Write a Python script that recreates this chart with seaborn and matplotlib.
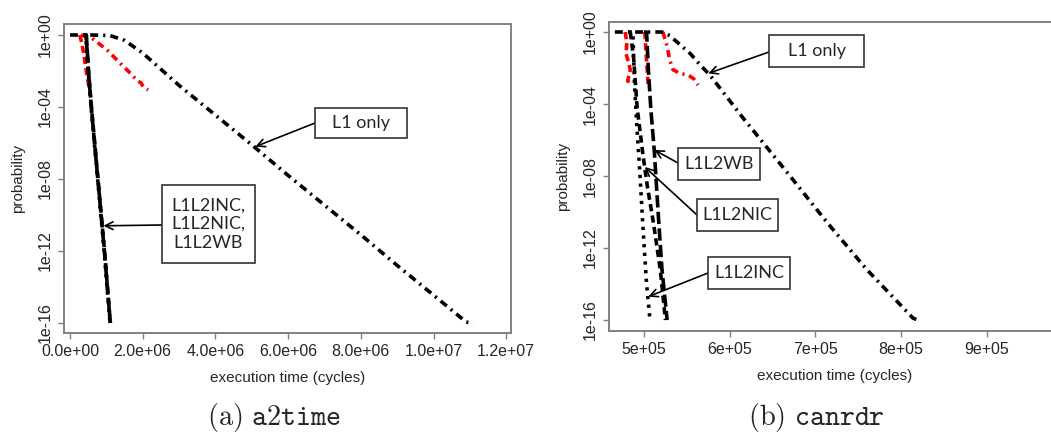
import numpy as np
import pandas as pd
import matplotlib
matplotlib.use("Agg")
import matplotlib.pyplot as plt
from matplotlib.patches import Rectangle
import seaborn as sns

# ---------------- data (a) a2time ----------------
a_l1_x = [0.0e6, 0.6e6, 1.1e6, 1.5e6, 2.0e6, 2.5e6, 3.0e6, 4.0e6, 5.0e6, 6.0e6,
          7.0e6, 8.0e6, 9.0e6, 10.0e6, 10.9e6, 11.1e6]
a_l1_logp = [0, 0, -0.03, -0.3, -1.0, -1.9, -2.8, -4.45, -6.1, -7.8,
             -9.45, -11.1, -12.8, -14.45, -15.95, -16.0]
a_inc_x = [0.36e6, 0.43e6, 0.50e6, 0.58e6, 0.67e6, 0.76e6, 0.85e6, 0.94e6, 1.02e6, 1.10e6]
a_inc_logp = [0, 0, -2, -4, -6, -8, -10, -12, -14, -16]
a_nic_x = [0.38e6, 0.44e6, 0.51e6, 0.59e6, 0.68e6, 0.77e6, 0.86e6, 0.95e6, 1.03e6, 1.11e6]
a_nic_logp = [0, 0, -2, -4, -6, -8, -10, -12, -14, -16]
a_wb_x = [0.40e6, 0.45e6, 0.51e6, 0.59e6, 0.68e6, 0.77e6, 0.86e6, 0.95e6, 1.03e6, 1.11e6]
a_wb_logp = [0, 0, -2.1, -4.1, -6.1, -8.1, -10.1, -12.1, -14.1, -16]
a_red1_x = [0.27e6, 0.33e6, 0.39e6, 0.44e6, 0.48e6, 0.52e6]
a_red1_logp = [0, -0.5, -1.2, -1.9, -2.4, -2.85]
a_red2_x = [0.30e6, 0.60e6, 1.02e6, 1.38e6, 1.70e6, 1.85e6, 1.95e6, 2.02e6, 2.15e6]
a_red2_logp = [0, -0.17, -0.83, -1.57, -2.2, -2.55, -2.65, -2.9, -3.05]

a_xticks = [0.0, 2.0e6, 4.0e6, 6.0e6, 8.0e6, 1.0e7, 1.2e7]
a_xticklabels = ["0.0e+00", "2.0e+06", "4.0e+06", "6.0e+06", "8.0e+06", "1.0e+07", "1.2e+07"]

# ---------------- data (b) canrdr ----------------
b_l1_x = [4.66e5, 5.0e5, 5.21e5, 5.30e5, 5.42e5, 5.54e5, 5.65e5, 5.77e5, 6.16e5,
          6.67e5, 7.14e5, 7.60e5, 8.14e5, 8.20e5]
b_l1_logp = [0, 0, 0, -0.2, -0.7, -1.2, -1.8, -2.4, -4.8, -7.8, -10.6, -13.2, -15.9, -16.0]
b_inc_x = [4.82e5, 4.87e5, 4.89e5, 4.92e5, 4.95e5, 4.99e5, 5.03e5, 5.07e5]
b_inc_logp = [0, 0, -3.0, -5.5, -7.7, -11.0, -14.0, -16.0]
b_nic_x = [4.84e5, 4.88e5, 4.92e5, 4.99e5, 5.04e5, 5.11e5, 5.19e5, 5.25e5]
b_nic_logp = [0, -1.5, -4.2, -6.9, -8.6, -10.6, -13.2, -16.0]
b_wb_x = [5.0e5, 5.03e5, 5.05e5, 5.08e5, 5.12e5, 5.17e5, 5.21e5, 5.27e5]
b_wb_logp = [0, 0, -2.0, -4.3, -6.6, -10.4, -13.2, -16.0]
b_red1_x = [4.78e5, 4.80e5, 4.79e5, 4.82e5, 4.84e5, 4.81e5, 4.84e5]
b_red1_logp = [0, -0.6, -1.2, -1.7, -2.1, -2.7, -3.0]
b_red2_x = [5.01e5, 5.02e5, 5.03e5, 5.04e5, 5.05e5]
b_red2_logp = [0, -0.8, -1.6, -2.3, -3.0]
b_red3_x = [5.22e5, 5.27e5, 5.30e5, 5.34e5, 5.42e5, 5.52e5, 5.58e5, 5.63e5]
b_red3_logp = [0, -0.8, -1.55, -2.1, -2.3, -2.4, -2.6, -2.95]

b_xticks = [5e5, 6e5, 7e5, 8e5, 9e5]
b_xticklabels = ["5e+05", "6e+05", "7e+05", "8e+05", "9e+05"]

yticks = [1e0, 1e-4, 1e-8, 1e-12, 1e-16]
yticklabels = ["1e+00", "1e-04", "1e-08", "1e-12", "1e-16"]

# ---------------- styling ----------------
sns.set_theme(style="white")
plt.rcParams["font.family"] = ["Liberation Sans", "DejaVu Sans"]
plt.rcParams["mathtext.fontset"] = "cm"

W, H = 1051, 434
fig = plt.figure(figsize=(W / 100, H / 100), dpi=100)

def fx(x):
    return x / W

def fy(y):
    return 1 - y / H

GRAY = "#808080"
LW = 2.6
ST_L1 = (0, (2.2, 1.4, 0.6, 1.4))
ST_INC = (0, (0.9, 1.5))
ST_NIC = (0, (2.0, 1.2))
ST_WB = (0, (3.4, 1.2))
ST_RED_A = (0, (2.0, 1.1))
ST_RED_B = (0, (2.0, 1.3, 0.6, 1.3))
TICK_FS = 11.5
LABEL_FS = 11


def draw(ax, x, logp, color, ls):
    df = pd.DataFrame({"x": x, "p": 10.0 ** np.asarray(logp, dtype=float)})
    sns.lineplot(data=df, x="x", y="p", ax=ax, color=color, linestyle=ls,
                 linewidth=LW, estimator=None, sort=False, legend=False)


def style_axes(ax, xlim, ylim, xticks, xticklabels):
    ax.set_yscale("log")
    ax.set_xlim(*xlim)
    ax.set_ylim(*ylim)
    ax.set_xticks(xticks)
    ax.set_xticklabels(xticklabels, fontsize=TICK_FS)
    ax.set_yticks(yticks)
    ax.set_yticklabels(yticklabels, fontsize=TICK_FS, rotation=90, va="center")
    ax.minorticks_off()
    for s in ax.spines.values():
        s.set_color(GRAY)
        s.set_linewidth(1.4)
    ax.tick_params(axis="both", which="major", direction="out", length=4,
                   width=1.0, color=GRAY, bottom=True, left=True, pad=4)
    ax.set_xlabel("execution time (cycles)", fontsize=LABEL_FS)
    ax.set_ylabel("probability", fontsize=LABEL_FS)
    ax.grid(False)


# ---- panel (a) ----
axA = fig.add_axes([fx(64), fy(333), (511 - 64) / W, (333 - 24) / H])
draw(axA, a_red1_x, a_red1_logp, "red", ST_RED_A)
draw(axA, a_red2_x, a_red2_logp, "red", ST_RED_B)
draw(axA, a_l1_x, a_l1_logp, "black", ST_L1)
draw(axA, a_inc_x, a_inc_logp, "black", ST_INC)
draw(axA, a_nic_x, a_nic_logp, "black", ST_NIC)
draw(axA, a_wb_x, a_wb_logp, "black", ST_WB)
style_axes(axA, (-1.65e5, 1.2132e7), (10 ** -16.556, 10 ** 0.611), a_xticks, a_xticklabels)
axA.xaxis.set_label_coords(0.5, -0.122)
axA.yaxis.set_label_coords(-0.087, 0.5)

# ---- panel (b) ----
axB = fig.add_axes([fx(609), fy(331), (1100 - 609) / W, (331 - 22) / H])
draw(axB, b_red1_x, b_red1_logp, "red", ST_RED_A)
draw(axB, b_red2_x, b_red2_logp, "red", ST_RED_A)
draw(axB, b_red3_x, b_red3_logp, "red", ST_RED_B)
draw(axB, b_l1_x, b_l1_logp, "black", ST_L1)
draw(axB, b_inc_x, b_inc_logp, "black", ST_INC)
draw(axB, b_nic_x, b_nic_logp, "black", ST_NIC)
draw(axB, b_wb_x, b_wb_logp, "black", ST_WB)
style_axes(axB, (4.5916e5, 1.03209e6), (10 ** -16.61, 10 ** 0.556), b_xticks, b_xticklabels)
axB.xaxis.set_label_coords(0.46, -0.122)
axB.yaxis.set_label_coords(-0.079, 0.5)

# ---- annotation boxes ----
BOX_FONT = ["Lato", "DejaVu Sans"]


def label_box(ax, text, box, arrow_from, tip):
    x0, y0, x1, y1 = box
    fig.add_artist(Rectangle((fx(x0), fy(y1)), (x1 - x0) / W, (y1 - y0) / H,
                             transform=fig.transFigure, facecolor="white",
                             edgecolor="#333333", linewidth=1.2, zorder=5))
    fig.text(fx((x0 + x1) / 2), fy((y0 + y1) / 2), text, ha="center", va="center",
             fontsize=13, family=BOX_FONT, linespacing=1.2, zorder=6)
    ax.annotate("", xy=tip, xycoords="data",
                xytext=(fx(arrow_from[0]), fy(arrow_from[1])), textcoords="figure fraction",
                arrowprops=dict(arrowstyle="->", lw=1.2, color="black",
                                mutation_scale=14, shrinkA=0, shrinkB=0),
                zorder=6, annotation_clip=False)


label_box(axA, "L1 only", (315, 108, 407, 138), (315, 123), (5.1e6, 10 ** -6.2))
label_box(axA, "L1L2INC,\nL1L2NIC,\nL1L2WB", (162, 185, 255, 263), (162, 225),
          (0.92e6, 10 ** -10.6))
label_box(axB, "L1 only", (769, 35, 864, 67), (769, 52), (5.75e5, 10 ** -2.3))
label_box(axB, "L1L2WB", (678, 148, 760, 180), (678, 163), (5.12e5, 10 ** -6.55))
label_box(axB, "L1L2NIC", (697, 199, 778, 231), (697, 215), (5.01e5, 10 ** -7.5))
label_box(axB, "L1L2INC", (708, 257, 790, 289), (708, 273), (5.05e5, 10 ** -14.7))

# ---- captions ----
fig.text(fx(207), fy(425), r"$\mathrm{(a)}\ \mathtt{a2time}$", ha="left",
         va="baseline", fontsize=20.5)
fig.text(fx(748), fy(425), r"$\mathrm{(b)}\ \mathtt{canrdr}$", ha="left",
         va="baseline", fontsize=20.5)

fig.savefig("out.png", dpi=100)
